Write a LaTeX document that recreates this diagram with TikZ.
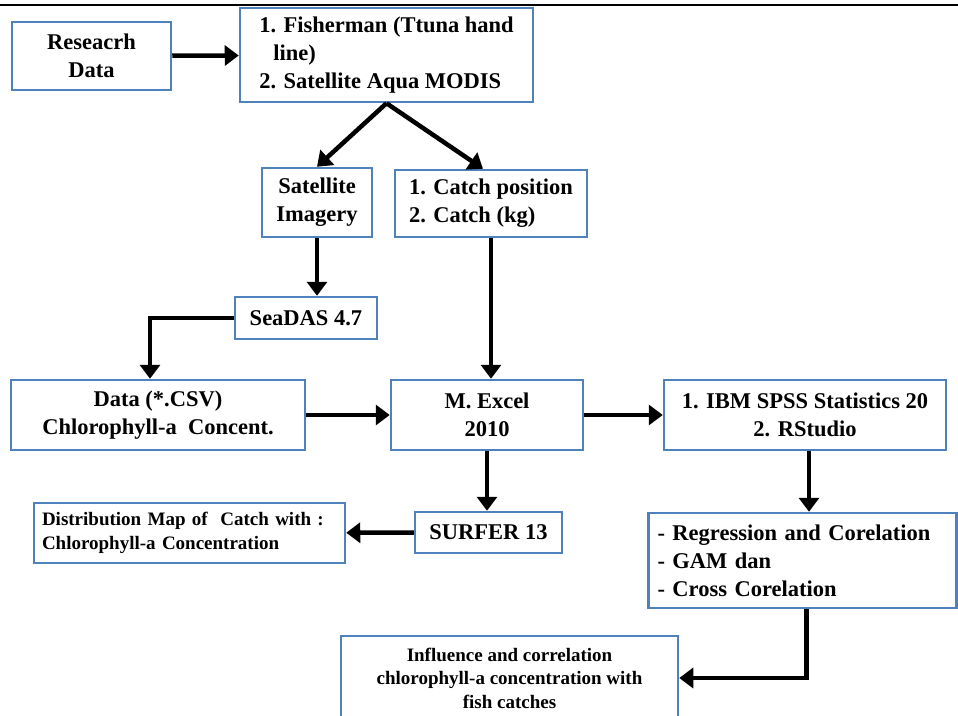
\documentclass[tikz,border=0pt]{standalone}
\usepackage{fontspec}
\setmainfont{Liberation Serif}
\usetikzlibrary{arrows.meta}
\definecolor{boxblue}{RGB}{79,129,189}

\begin{document}
\begin{tikzpicture}[x=1pt, y=-1pt,
  box/.style={draw=boxblue, line width=2.5pt, rectangle, align=center, inner sep=0pt,
    font=\bfseries\fontsize{22.5}{28}\selectfont},
  small/.style={font=\bfseries\fontsize{19}{23.5}\selectfont},
  arr/.style={-{Triangle[length=14pt,width=20pt]}, line width=4.5pt}]
\useasboundingbox (0,0) rectangle (958,715);
\clip (0,0) rectangle (958,715);
\draw[line width=2pt] (0,5) -- (958,5);
% top row
\node[box, minimum width=159pt, minimum height=68pt] (res) at (91.5,56) {Reseacrh\\Data};
\node[box, minimum width=293pt, minimum height=94pt, align=left] (fish) at (386.5,55)
  {1. Fisherman (Ttuna hand\\\hspace*{14pt}line)\\2. Satellite Aqua MODIS};
% second row
\node[box, minimum width=110pt, minimum height=69pt] (sat) at (317,202.5) {Satellite\\Imagery};
\node[box, minimum width=192pt, minimum height=67pt, align=left] (catch) at (491,203.5)
  {1. Catch position\\2. Catch (kg)};
\node[box, minimum width=142pt, minimum height=42pt] (sea) at (306,318) {SeaDAS 4.7};
% middle row
\node[box, minimum width=294pt, minimum height=70pt] (data) at (158,415)
  {Data (*.CSV)\\Chlorophyll-a\ \ Concent.};
\node[box, minimum width=192pt, minimum height=70pt] (excel) at (487,415) {M. Excel\\2010};
\node[box, minimum width=282pt, minimum height=70pt] (spss) at (805,415)
  {1. IBM SPSS Statistics 20\\2. RStudio};
% lower rows
\node[box, minimum width=147pt, minimum height=41pt] (surf) at (488.5,532.5) {SURFER 13};
\node[box, small, text width=295pt, inner xsep=8pt, minimum height=60pt, align=left] (dist) at (189.5,533)
  {Distribution Map of\ \ Catch with :\\Chlorophyll-a Concentration};
\node[box, text width=290pt, inner xsep=9pt, minimum height=95pt, align=left] (reg) at (802.5,560.5)
  {- Regression and Corelation\\- GAM dan\\- Cross Corelation};
\node[box, small, minimum width=337pt, minimum height=84pt] (infl) at (509.5,678)
  {Influence and correlation\\chlorophyll-a concentration with\\fish catches};
% connectors
\draw[arr] (res) -- (fish);
\draw[arr] (fish.south) -- (sat.north);
\draw[arr] (fish.south) -- ([xshift=-8pt]catch.north);
\draw[arr] (sat.south) -- (sat.south |- sea.north);
\draw[arr] (sea.west) -| ([xshift=-8pt]data.north);
\draw[arr] (catch.south) -- (catch.south |- excel.north);
\draw[arr] (data) -- (excel);
\draw[arr] (excel) -- (spss);
\draw[arr] (excel.south) -- (excel.south |- surf.north);
\draw[arr] (surf) -- (dist);
\draw[arr] ([xshift=4pt]spss.south) -- ([xshift=4pt]spss.south |- reg.north);
\draw[arr] ([xshift=4pt]reg.south) |- (infl.east);
\end{tikzpicture}
\end{document}
